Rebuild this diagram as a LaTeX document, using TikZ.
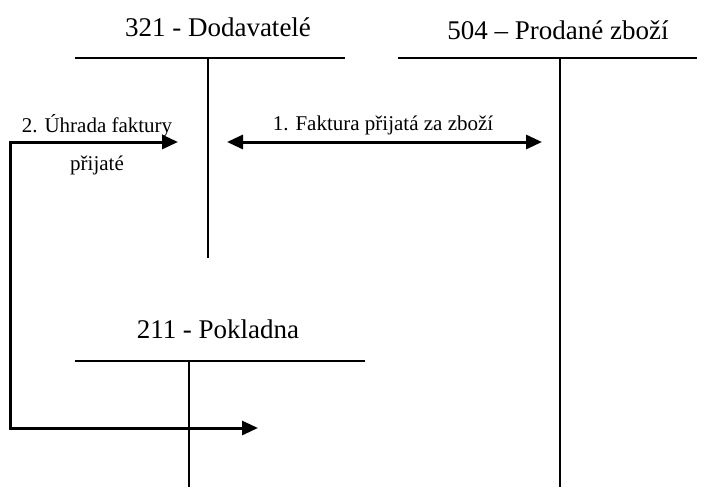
\documentclass[tikz,border=0pt]{standalone}
\usepackage{fontspec}
\setmainfont{Liberation Serif}
\usetikzlibrary{arrows.meta}

\tikzset{
  acctitle/.style={anchor=base, inner sep=0pt, font=\fontsize{27}{30}\selectfont},
  lbl/.style={anchor=base, inner sep=0pt, font=\fontsize{21}{24}\selectfont},
  tline/.style={line width=2.6pt},
  flow/.style={line width=3pt, arrows={Triangle[length=16pt,width=14pt]-Triangle[length=16pt,width=14pt]}},
}

\begin{document}
\begin{tikzpicture}[x=1pt,y=-1pt]
  \useasboundingbox (0,0) rectangle (714,487);

  % account 321
  \node[acctitle] (t321) at (218,37) {321 - Dodavatelé};
  \coordinate (a321l) at (75,58);
  \coordinate (a321r) at (345,58);
  \coordinate (a321t) at (208,58);
  \coordinate (a321b) at (208,258);
  \draw[tline] (a321l) -- (a321r);
  \draw[tline] (a321t) -- (a321b);

  % account 504
  \node[acctitle] (t504) at (558,40) {504 – Prodané zboží};
  \coordinate (a504l) at (398,58);
  \coordinate (a504r) at (697,58);
  \coordinate (a504t) at (560,58);
  \coordinate (a504b) at (560,487);
  \draw[tline] (a504l) -- (a504r);
  \draw[tline] (a504t) -- (a504b);

  % account 211
  \node[acctitle] (t211) at (218,338) {211 - Pokladna};
  \coordinate (a211l) at (75,361);
  \coordinate (a211r) at (365,361);
  \coordinate (a211t) at (189,361);
  \coordinate (a211b) at (189,487);
  \draw[tline] (a211l) -- (a211r);
  \draw[tline] (a211t) -- (a211b);

  % 1. invoice received for goods
  \coordinate (f1a) at (227,142);
  \coordinate (f1b) at (542,142);
  \draw[flow] (f1a) -- (f1b);
  \node[lbl] (l1) at (383,130) {1. Faktura přijatá za zboží};

  % 2. payment of the received invoice
  \coordinate (p2a) at (178,142);
  \coordinate (p2c1) at (10,142);
  \coordinate (p2c2) at (10,428);
  \coordinate (p2b) at (258,428);
  \draw[flow] (p2a) -- (p2c1) -- (p2c2) -- (p2b);
  \node[lbl] (l2a) at (97,132) {2. Úhrada faktury};
  \node[lbl] (l2b) at (97,170) {přijaté};
\end{tikzpicture}
\end{document}
